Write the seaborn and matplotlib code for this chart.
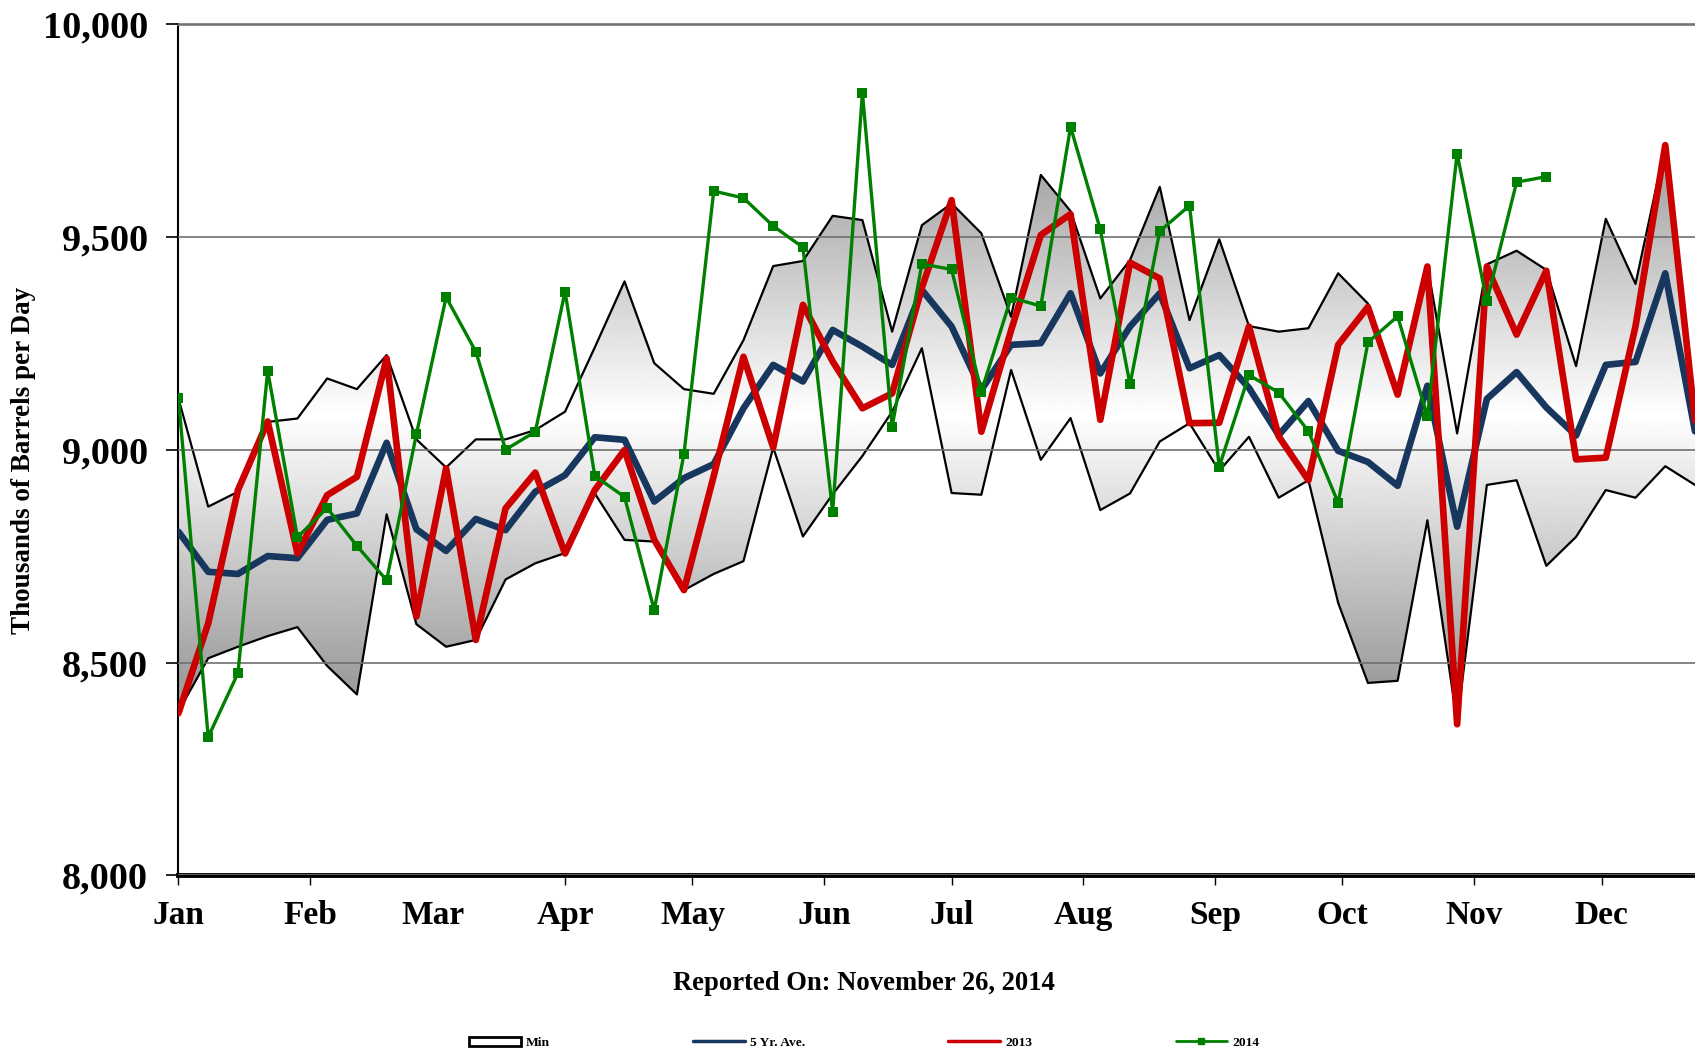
import numpy as np
import pandas as pd
import seaborn as sns
import matplotlib
matplotlib.use("Agg")
import matplotlib.pyplot as plt
from matplotlib.patches import Patch
from matplotlib.lines import Line2D

# weekly data, x = day of year of each report week
week_day = [7 * i for i in range(52)]

band_max = [9120, 8866, 8901, 9065, 9073, 9167, 9142, 9222, 9024, 8958, 9024, 9024, 9046,
            9089, 9240, 9395, 9203, 9142, 9131, 9257, 9431, 9443, 9549, 9539, 9277, 9527,
            9578, 9508, 9312, 9645, 9560, 9355, 9445, 9617, 9304, 9494, 9290, 9277, 9285,
            9414, 9343, 9135, 9432, 9038, 9435, 9467, 9422, 9196, 9542, 9389, 9715, 9080]

band_min = [8385, 8510, 8537, 8562, 8583, 8492, 8425, 8848, 8590, 8537, 8553, 8695, 8733,
            8757, 8897, 8788, 8784, 8670, 8708, 8738, 9005, 8796, 8895, 8985, 9089, 9238,
            8898, 8894, 9187, 8976, 9074, 8858, 8897, 9019, 9062, 8950, 9030, 8887, 8928,
            8640, 8452, 8457, 8834, 8360, 8917, 8928, 8727, 8795, 8905, 8887, 8961, 8917]

five_yr_ave = [8807, 8713, 8708, 8750, 8745, 8835, 8850, 9016, 8813, 8762, 8837, 8811, 8901,
               8940, 9029, 9023, 8878, 8933, 8966, 9097, 9199, 9160, 9281, 9242, 9199, 9375,
               9289, 9140, 9246, 9250, 9367, 9179, 9289, 9367, 9191, 9222, 9145, 9034, 9114,
               8997, 8971, 8915, 9150, 8819, 9119, 9182, 9099, 9033, 9199, 9206, 9414, 9043]

y2013 = [8381, 8592, 8905, 9066, 8756, 8893, 8936, 9214, 8608, 8956, 8553, 8862, 8946,
         8756, 8905, 8999, 8788, 8670, 8938, 9218, 9005, 9340, 9207, 9097, 9132, 9380,
         9586, 9042, 9280, 9504, 9553, 9070, 9439, 9402, 9062, 9063, 9289, 9031, 8928,
         9246, 9335, 9129, 9430, 8355, 9430, 9270, 9420, 8977, 8981, 9290, 9715, 9068]

y2014 = [9120, 8325, 8475, 9185, 8794, 8863, 8774, 8693, 9036, 9358, 9230, 9000, 9042,
         9371, 8938, 8889, 8623, 8990, 9607, 9591, 9525, 9475, 8854, 9838, 9054, 9436,
         9423, 9136, 9357, 9337, 9758, 9517, 9153, 9513, 9573, 8960, 9175, 9134, 9043,
         8875, 9252, 9313, 9078, 9695, 9348, 9628, 9641]

month_labels = ["Jan", "Feb", "Mar", "Apr", "May", "Jun", "Jul", "Aug", "Sep", "Oct", "Nov", "Dec"]
month_start = [0, 31, 60, 91, 121, 152, 182, 213, 244, 274, 305, 335]
y_ticks = [8000, 8500, 9000, 9500, 10000]
y_tick_labels = ["8,000", "8,500", "9,000", "9,500", "10,000"]

df = pd.DataFrame({"day": week_day, "Max": band_max, "Min": band_min,
                   "5 Yr. Ave.": five_yr_ave, "2013": y2013})
df14 = pd.DataFrame({"day": week_day[:len(y2014)], "2014": y2014})

sns.set_style("white")
plt.rcParams["font.family"] = ["Liberation Serif", "DejaVu Serif"]
plt.rcParams["font.weight"] = "bold"
plt.rcParams["text.color"] = "black"
plt.rcParams["xtick.color"] = "black"
plt.rcParams["ytick.color"] = "black"

fig = plt.figure(figsize=(16.95, 10.57), dpi=100)
ax = fig.add_axes([0.1053, 0.1718, 0.8947, 0.8057])

# min-max band with a grey gradient
poly = ax.fill_between(df["day"], df["Min"], df["Max"], facecolor="none", edgecolor="none")
v = np.linspace(8000, 10000, 500)
shade = 1 - 0.38 * np.clip(np.abs(v - 9080) / 620, 0, 1)
im = ax.imshow(shade[:, None], cmap="gray", vmin=0, vmax=1, origin="lower",
               extent=[0, 360, 8000, 10000], aspect="auto", interpolation="bilinear", zorder=1)
im.set_clip_path(poly.get_paths()[0], ax.transData)

sns.lineplot(data=df, x="day", y="Max", color="black", lw=1.6, ax=ax, zorder=2)
sns.lineplot(data=df, x="day", y="Min", color="black", lw=1.6, ax=ax, zorder=2)
sns.lineplot(data=df, x="day", y="5 Yr. Ave.", color="#17375E", lw=4.8, ax=ax, zorder=3)
sns.lineplot(data=df, x="day", y="2013", color="#CC0000", lw=4.8, ax=ax, zorder=4)
sns.lineplot(data=df14, x="day", y="2014", color="#008000", lw=2.4, marker="s",
             markersize=6.5, markeredgewidth=0, ax=ax, zorder=5)

ax.set_xlim(0, 357)
ax.set_ylim(8000, 10000)
ax.set_xlabel("")
ax.set_ylabel("")
ax.set_yticks(y_ticks)
ax.set_yticklabels(y_tick_labels, fontsize=27.5, fontweight="bold")
ax.set_xticks(month_start)
ax.set_xticklabels(month_labels, fontsize=24, fontweight="bold")
ax.tick_params(axis="y", length=9, width=1.2, pad=13, left=True)
ax.tick_params(axis="x", length=7, width=1, pad=11, bottom=True)
ax.xaxis.get_major_ticks()[2].tick1line.set_visible(False)
ax.yaxis.grid(True, color="#707070", lw=1.2)
ax.xaxis.grid(False)
ax.set_axisbelow(False)

ax.spines["right"].set_visible(False)
ax.spines["top"].set_color("#808080")
ax.spines["top"].set_linewidth(2)
ax.spines["left"].set_color("black")
ax.spines["left"].set_linewidth(1.5)
ax.spines["bottom"].set_color("black")
ax.spines["bottom"].set_linewidth(3.5)

fig.text(0.0136, 0.564, "Thousands of Barrels per Day", rotation=90, ha="center", va="center",
         fontsize=19.5, fontweight="bold")
fig.text(0.5097, 0.0696, "Reported On: November 26, 2014", ha="center", va="center",
         fontsize=19.2, fontweight="bold")

handles = [Patch(facecolor="white", edgecolor="black", lw=2),
           Line2D([], [], color="#17375E", lw=2.5),
           Line2D([], [], color="#CC0000", lw=2.5),
           Line2D([], [], color="#008000", lw=2, marker="s", markersize=5)]
fig.legend(handles, ["Min", "5 Yr. Ave.", "2013", "2014"], loc="center",
           bbox_to_anchor=(0.51, 0.0133), ncol=4, frameon=False,
           prop=dict(size=9.7, weight="bold"), handlelength=3.85, columnspacing=10.6,
           handletextpad=0.4)

fig.savefig("out.png", dpi=100)
